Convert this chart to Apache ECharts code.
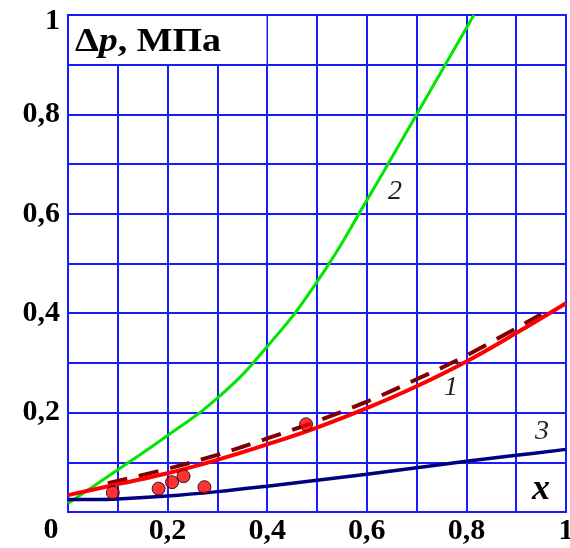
<!DOCTYPE html>
<html><head><meta charset="utf-8">
<script src="https://cdn.jsdelivr.net/npm/echarts@6/dist/echarts.min.js"></script>
<style>html,body{margin:0;padding:0;background:#fff}#c{width:570px;height:548px}</style>
</head><body><div id="c"></div>
<script>
// ---- data ----
const xTickLabels = ['0', '0,2', '0,4', '0,6', '0,8', '1'];
const yTickLabels = ['0', '0,2', '0,4', '0,6', '0,8', '1'];

const curve2X = [0, 0.1, 0.2, 0.3, 0.4, 0.5, 0.6, 0.7, 0.815];
const curve2Y = [0.017, 0.085, 0.154, 0.229, 0.333, 0.463, 0.627, 0.8, 1.0];

const curve1X = [0, 0.1, 0.2, 0.3, 0.4, 0.5, 0.6, 0.7, 0.8, 0.9, 1.0];
const curve1Y = [0.034, 0.056, 0.078, 0.105, 0.136, 0.170, 0.209, 0.253, 0.303, 0.360, 0.420];

const dashedX = [0.08, 0.2, 0.3, 0.4, 0.5, 0.6, 0.7, 0.8, 0.95];
const dashedY = [0.058, 0.087, 0.115, 0.148, 0.183, 0.222, 0.267, 0.315, 0.398];

const curve3X = [0, 0.05, 0.1, 0.2, 0.3, 0.4, 0.5, 0.6, 0.7, 0.8, 0.9, 1.0];
const curve3Y = [0.025, 0.025, 0.026, 0.032, 0.041, 0.052, 0.064, 0.076, 0.089, 0.102, 0.114, 0.126];

const expX = [0.09, 0.182, 0.209, 0.232, 0.274, 0.478];
const expY = [0.039, 0.047, 0.060, 0.072, 0.050, 0.1765];

const zip = (a, b) => a.map((v, i) => [v, b[i]]);

const FONT = '"Liberation Serif", "Times New Roman", serif';
const BLUE = '#1a1aff';

const chart = echarts.init(document.getElementById('c'));
chart.setOption({
  animation: false,
  backgroundColor: '#fff',
  grid: { left: 68, top: 15, width: 498, height: 497, show: true, borderColor: BLUE, borderWidth: 2,
          backgroundColor: '#fff', containLabel: false, outerBoundsMode: 'none' },
  xAxis: {
    type: 'value', min: 0, max: 1, interval: 0.1,
    axisLine: { show: true, lineStyle: { color: BLUE, width: 2 } },
    axisTick: { show: false },
    splitLine: { show: true, lineStyle: { color: BLUE, width: 2 } },
    axisLabel: {
      margin: 4, color: '#000', fontFamily: FONT, fontWeight: 'bold', fontSize: 30,
      formatter: v => { const i = Math.round(v * 10); if (i % 2 || i === 0) return ''; return xTickLabels[i / 2]; }
    }
  },
  yAxis: {
    type: 'value', min: 0, max: 1, interval: 0.1,
    axisLine: { show: true, lineStyle: { color: BLUE, width: 2 } },
    axisTick: { show: false },
    splitLine: { show: true, lineStyle: { color: BLUE, width: 2 } },
    axisLabel: {
      margin: 8, color: '#000', fontFamily: FONT, fontWeight: 'bold', fontSize: 30,
      formatter: v => { const i = Math.round(v * 10); if (i % 2 || i === 0 || i === 10) return ''; return yTickLabels[i / 2]; }
    }
  },
  series: [
    { type: 'line', data: zip(curve2X, curve2Y), smooth: 0.5, showSymbol: false, lineStyle: { color: '#00e600', width: 3 }, z: 3 },
    { type: 'line', data: zip(curve3X, curve3Y), smooth: 0.4, showSymbol: false, lineStyle: { color: '#000080', width: 3.5 }, z: 3 },
    { type: 'line', data: zip(dashedX, dashedY), smooth: 0.4, showSymbol: false, lineStyle: { color: '#800000', width: 4, type: [20, 12] }, z: 3 },
    { type: 'line', data: zip(curve1X, curve1Y), smooth: 0.4, showSymbol: false, lineStyle: { color: '#ff0000', width: 4 }, z: 4 },
    { type: 'scatter', data: zip(expX, expY), symbol: 'circle', symbolSize: 13, itemStyle: { color: '#ff0000', borderColor: '#000', borderWidth: 1 }, z: 5 }
  ],
  graphic: [
    { type: 'rect', shape: { x: 69, y: 16, width: 197.5, height: 48 }, style: { fill: '#fff' }, z: 10 },
    { type: 'text', x: 75, y: 42, scaleX: 1.15, z: 11, style: {
        text: '{a|Δ}{b|p}{a|, МПа}', textVerticalAlign: 'middle',
        rich: {
          a: { fontFamily: FONT, fontWeight: 'bold', fontSize: 33, fill: '#000' },
          b: { fontFamily: FONT, fontWeight: 'bold', fontStyle: 'italic', fontSize: 33, fill: '#000' }
        } } },
    { type: 'text', x: 60, y: 21, z: 11, style: { text: yTickLabels[5], font: 'bold 30px ' + FONT, fill: '#000', textAlign: 'right', textVerticalAlign: 'middle' } },
    { type: 'text', x: 51, y: 530, z: 11, style: { text: xTickLabels[0], font: 'bold 30px ' + FONT, fill: '#000', textAlign: 'center', textVerticalAlign: 'middle' } },
    { type: 'text', x: 541, y: 490, z: 11, style: { text: 'x', font: 'italic bold 36px ' + FONT, fill: '#000', textAlign: 'center', textVerticalAlign: 'middle' } },
    { type: 'text', x: 451, y: 388, z: 11, style: { text: '1', font: 'italic 28px ' + FONT, fill: '#222', textAlign: 'center', textVerticalAlign: 'middle' } },
    { type: 'text', x: 395, y: 192, z: 11, style: { text: '2', font: 'italic 28px ' + FONT, fill: '#222', textAlign: 'center', textVerticalAlign: 'middle' } },
    { type: 'text', x: 542, y: 432, z: 11, style: { text: '3', font: 'italic 28px ' + FONT, fill: '#222', textAlign: 'center', textVerticalAlign: 'middle' } }
  ]
});
</script></body></html>
